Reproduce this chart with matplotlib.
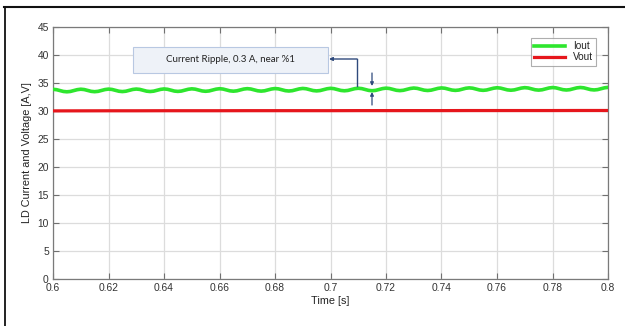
import numpy as np
import matplotlib
matplotlib.use("Agg")
import matplotlib.pyplot as plt
from matplotlib.lines import Line2D
from matplotlib.patches import Rectangle

plt.rcParams['font.family'] = ['Liberation Sans', 'DejaVu Sans']

# ---- data ----
t_iout = np.linspace(0.6, 0.8, 161)
iout = [33.87, 33.81, 33.65, 33.49, 33.43, 33.49, 33.65, 33.81,
        33.89, 33.83, 33.67, 33.51, 33.45, 33.51, 33.67, 33.83,
        33.91, 33.85, 33.69, 33.53, 33.47, 33.53, 33.69, 33.85,
        33.92, 33.86, 33.70, 33.54, 33.48, 33.54, 33.70, 33.86,
        33.94, 33.88, 33.72, 33.56, 33.50, 33.56, 33.72, 33.88,
        33.96, 33.90, 33.74, 33.58, 33.52, 33.58, 33.74, 33.90,
        33.98, 33.92, 33.76, 33.60, 33.54, 33.60, 33.76, 33.92,
        33.99, 33.93, 33.77, 33.61, 33.55, 33.61, 33.77, 33.93,
        34.01, 33.95, 33.79, 33.63, 33.57, 33.63, 33.79, 33.95,
        34.03, 33.97, 33.81, 33.65, 33.59, 33.65, 33.81, 33.97,
        34.05, 33.99, 33.83, 33.67, 33.61, 33.67, 33.83, 33.99,
        34.06, 34.00, 33.84, 33.68, 33.62, 33.68, 33.84, 34.00,
        34.08, 34.02, 33.86, 33.70, 33.64, 33.70, 33.86, 34.02,
        34.10, 34.04, 33.88, 33.72, 33.66, 33.72, 33.88, 34.04,
        34.12, 34.06, 33.90, 33.74, 33.68, 33.74, 33.90, 34.06,
        34.13, 34.07, 33.91, 33.75, 33.69, 33.75, 33.91, 34.07,
        34.15, 34.09, 33.93, 33.77, 33.71, 33.77, 33.93, 34.09,
        34.17, 34.11, 33.95, 33.79, 33.73, 33.79, 33.95, 34.11,
        34.19, 34.13, 33.97, 33.81, 33.75, 33.81, 33.97, 34.13,
        34.20, 34.14, 33.98, 33.82, 33.76, 33.82, 33.98, 34.14,
        34.22]
t_vout = np.linspace(0.6, 0.8, 21)
vout = [30.02, 30.03, 30.04, 30.04, 30.05, 30.05, 30.05, 30.06, 30.06, 30.06,
        30.06, 30.07, 30.07, 30.07, 30.07, 30.08, 30.08, 30.08, 30.08, 30.09, 30.09]
series_labels = ['Iout', 'Vout']
xticks = [0.6, 0.62, 0.64, 0.66, 0.68, 0.7, 0.72, 0.74, 0.76, 0.78, 0.8]
xticklabels = ['0.6', '0.62', '0.64', '0.66', '0.68', '0.7', '0.72', '0.74', '0.76', '0.78', '0.8']
yticks = [0, 5, 10, 15, 20, 25, 30, 35, 40, 45]
annot_text = 'Current Ripple, 0.3 A, near %1'

# ---- figure ----
W, H = 625, 326
fig = plt.figure(figsize=(W / 100, H / 100), dpi=100)
ax = fig.add_axes([53 / W, 1 - 279 / H, 555 / W, 252 / H])

ax.plot(t_iout, iout, color='#2ee62e', lw=2.6, label=series_labels[0],
        solid_joinstyle='round', zorder=3)
ax.plot(t_vout, vout, color='#e6161c', lw=2.3, label=series_labels[1], zorder=3)

ax.set_xlim(0.6, 0.8)
ax.set_ylim(0, 45)
ax.set_xticks(xticks)
ax.set_xticklabels(xticklabels)
ax.set_yticks(yticks)
ax.grid(True, color='#dcdcdc', lw=0.9)
ax.set_axisbelow(True)
ax.tick_params(direction='in', length=4, width=0.8, color='#707070',
               labelcolor='#333333', labelsize=7.4, top=True, right=True,
               labeltop=False, labelright=False, pad=3)
for s in ax.spines.values():
    s.set_color('#7a7a7a')
    s.set_linewidth(0.9)

ax.set_xlabel('Time [s]', fontsize=7.8, color='#222222', labelpad=2)
ax.set_ylabel('LD Current and Voltage [A,V]', fontsize=7.8, color='#222222', labelpad=4)

leg = ax.legend(loc='upper right', bbox_to_anchor=((596 - 53) / 555, 1 - (38 - 27) / 252),
                borderaxespad=0, fontsize=7.2, frameon=True, fancybox=False,
                handlelength=3.1, handletextpad=0.8, borderpad=0.3,
                labelspacing=0.15)
leg.get_frame().set_edgecolor('#9a9a9a')
leg.get_frame().set_linewidth(0.8)
for txt in leg.get_texts():
    txt.set_color('#222222')

# annotation (pixel -> data helpers)
def tx(px):
    return 0.6 + (px - 53) / 555 * 0.2

def vy(py):
    return 45 - (py - 27) / 252 * 45

ax.add_patch(Rectangle((tx(133), vy(73)), tx(328) - tx(133), vy(47) - vy(73),
                       fc='#eef2f8', ec='#b8c8e2', lw=0.8, zorder=5))
ax.text((tx(133) + tx(328)) / 2, vy(60), annot_text, ha='center', va='center',
        fontsize=7, family=['Lato', 'DejaVu Sans'], color='#222222', zorder=6)

navy = '#2f4a7c'
ax.plot([tx(357), tx(357)], [vy(86), vy(59)], color=navy, lw=1.0, zorder=6)
ax.annotate('', xy=(tx(329), vy(59)), xytext=(tx(357), vy(59)),
            arrowprops=dict(arrowstyle='-|>', color=navy, lw=1.0,
                            mutation_scale=5, shrinkA=0, shrinkB=0), zorder=6)
ax.annotate('', xy=(tx(372), vy(86)), xytext=(tx(372), vy(73)),
            arrowprops=dict(arrowstyle='-|>', color=navy, lw=0.9,
                            mutation_scale=5, shrinkA=0, shrinkB=0), zorder=6)
ax.annotate('', xy=(tx(372), vy(92)), xytext=(tx(372), vy(105)),
            arrowprops=dict(arrowstyle='-|>', color=navy, lw=0.9,
                            mutation_scale=5, shrinkA=0, shrinkB=0), zorder=6)

# outer border (cut off at right/bottom)
fig.add_artist(Line2D([4.5 / W, 4.5 / W], [0, 1 - 7 / H], color='#111111', lw=1.3,
                      transform=fig.transFigure))
fig.add_artist(Line2D([4 / W, 1], [1 - 7.3 / H, 1 - 7.3 / H], color='#111111', lw=1.5,
                      transform=fig.transFigure))

fig.savefig('out.png', dpi=100)
